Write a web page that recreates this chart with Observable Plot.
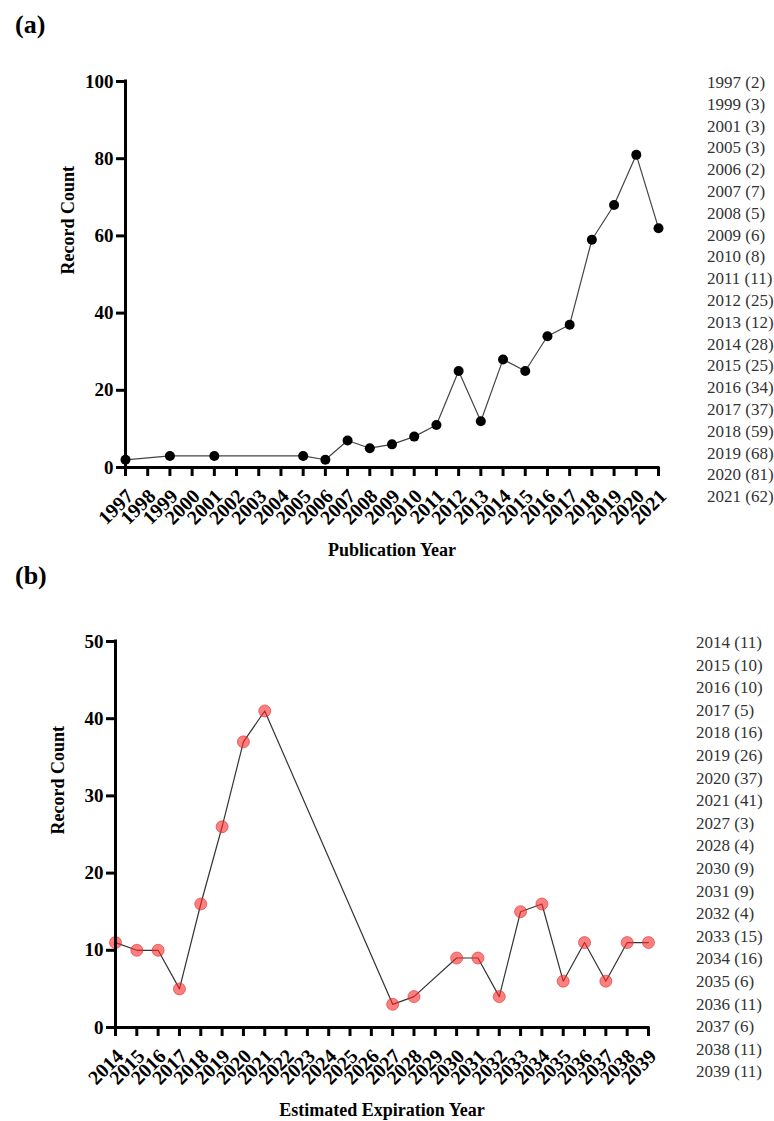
<!DOCTYPE html>
<html><head><meta charset="utf-8">
<script src="https://cdn.jsdelivr.net/npm/d3@7"></script>
<script src="https://cdn.jsdelivr.net/npm/@observablehq/plot@0.6"></script>
<style>
body{margin:0;background:#fff;}
#page{position:relative;width:774px;height:1121px;font-family:"Liberation Serif",serif;overflow:hidden;}
.panel{position:absolute;left:0;}
.tag{position:absolute;left:15px;font-weight:bold;font-size:26px;line-height:1;}
.legend{position:absolute;font-size:17px;color:#333;}
.legend div{position:absolute;left:0;white-space:nowrap;line-height:1;}
</style></head><body><div id="page"></div>
<script>
// Panel (a): publication years
const pubYears  = [1997,1999,2001,2005,2006,2007,2008,2009,2010,2011,2012,2013,2014,2015,2016,2017,2018,2019,2020,2021];
const pubCounts = [2,3,3,3,2,7,5,6,8,11,25,12,28,25,34,37,59,68,81,62];
// Panel (b): estimated expiration years
const expYears  = [2014,2015,2016,2017,2018,2019,2020,2021,2027,2028,2030,2031,2032,2033,2034,2035,2036,2037,2038,2039];
const expCounts = [11,10,10,5,16,26,37,41,3,4,9,9,4,15,16,6,11,6,11,11];
// Tick labels
const pubXTicks = d3.range(1997, 2022);
const expXTicks = d3.range(2014, 2040);
const pubYTicks = [0,20,40,60,80,100];
const expYTicks = [0,10,20,30,40,50];
const yLabel = "Record Count";
const pubXLabel = "Publication Year";
const expXLabel = "Estimated Expiration Year";

const FONT = '"Liberation Serif", serif';
const page = document.getElementById("page");

function panel({years, counts, xDomain, xTicks, yDomain, yTicks, marginLeft, marginRight, xLabel, lineOpts, dotOpts}) {
  const data = years.map((y, i) => ({year: y, count: counts[i]}));
  return Plot.plot({
    width: 774, height: 560,
    marginTop: 81, marginBottom: 93, marginLeft, marginRight,
    style: {fontFamily: FONT, background: "white", color: "black", overflow: "visible"},
    x: {type: "linear", domain: xDomain},
    y: {type: "linear", domain: yDomain},
    marks: [
      Plot.line(data, {x: "year", y: "count", ...lineOpts}),
      Plot.dot(data, {x: "year", y: "count", ...dotOpts}),
      Plot.ruleX([xDomain[0]], {y1: yDomain[0], y2: yDomain[1], stroke: "black", strokeWidth: 3, strokeLinecap: "square"}),
      Plot.ruleY([yDomain[0]], {x1: xDomain[0], x2: xDomain[1], stroke: "black", strokeWidth: 3, strokeLinecap: "square"}),
      Plot.axisY({ticks: yTicks, tickSize: 9, tickPadding: 3, strokeWidth: 3, fontSize: 19, fontWeight: "bold", label: null, tickFormat: "d", fill: "black"}),
      Plot.axisX({ticks: xTicks, tickSize: 9, strokeWidth: 3, label: null, tickFormat: () => ""}),
      Plot.text(xTicks, {x: d => d, text: d => String(d), frameAnchor: "bottom", rotate: -45, textAnchor: "end", lineAnchor: "top", dx: -1, dy: 20, fontSize: 20, fontWeight: "bold", fill: "black"}),
      Plot.text([yLabel], {frameAnchor: "left", rotate: -90, dx: -57, fontSize: 18, fontWeight: "bold", fill: "black"}),
      Plot.text([xLabel], {frameAnchor: "bottom", dy: 88, fontSize: 18, fontWeight: "bold", fill: "black"})
    ]
  });
}

function place(el, top) {
  el.classList.add("panel");
  el.style.top = top + "px";
  page.appendChild(el);
}

place(panel({
  years: pubYears, counts: pubCounts, xDomain: [1997, 2021], xTicks: pubXTicks,
  yDomain: [0, 100], yTicks: pubYTicks, marginLeft: 125, marginRight: 116, xLabel: pubXLabel,
  lineOpts: {stroke: "#444", strokeWidth: 1.2},
  dotOpts: {r: 5, fill: "black", stroke: "none"}
}), 0);

place(panel({
  years: expYears, counts: expCounts, xDomain: [2014, 2039], xTicks: expXTicks,
  yDomain: [0, 50], yTicks: expYTicks, marginLeft: 115, marginRight: 126, xLabel: expXLabel,
  lineOpts: {stroke: "#333", strokeWidth: 1.2},
  dotOpts: {r: 6, fill: "#ff2a2a", fillOpacity: 0.6, stroke: "#d43030", strokeOpacity: 0.6, strokeWidth: 1}
}), 560);

function tag(text, top) {
  const d = document.createElement("div");
  d.className = "tag"; d.textContent = text; d.style.top = top + "px";
  page.appendChild(d);
}
tag("(a)", 12);
tag("(b)", 563);

function legend(years, counts, left, firstCenter, step) {
  const box = document.createElement("div");
  box.className = "legend"; box.style.left = left + "px"; box.style.top = "0px";
  years.forEach((y, i) => {
    const d = document.createElement("div");
    d.textContent = `${y} (${counts[i]})`;
    d.style.top = (firstCenter + i * step - 9) + "px";
    box.appendChild(d);
  });
  page.appendChild(box);
}
legend(pubYears, pubCounts, 707, 83, 21.8);
legend(expYears, expCounts, 696, 643, 22.6);
</script></body></html>
